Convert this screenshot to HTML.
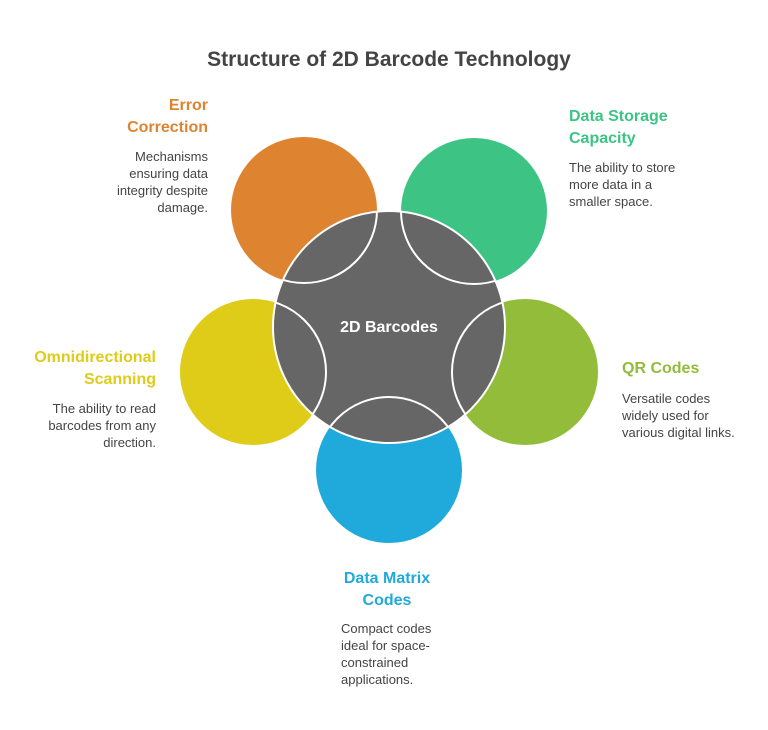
<!DOCTYPE html>
<html><head><meta charset="utf-8"><style>
body{margin:0;background:#fff;width:768px;height:725px;overflow:hidden}
svg text{font-family:"Liberation Sans",sans-serif}
</style></head><body>
<svg width="768" height="725" viewBox="0 0 768 725">
<defs><clipPath id="c"><circle cx="389" cy="327" r="116"/></clipPath></defs>
<text x="389" y="66" text-anchor="middle" font-size="21" font-weight="bold" fill="#444">Structure of 2D Barcode Technology</text>
<circle cx="304" cy="210" r="73" fill="#DE8431"/>
<circle cx="474" cy="211" r="73" fill="#3DC484"/>
<circle cx="253" cy="372" r="73" fill="#DFCC18"/>
<circle cx="525" cy="372" r="73" fill="#92BC3A"/>
<circle cx="389" cy="470" r="73" fill="#20AADB"/>
<circle cx="389" cy="327" r="116" fill="#666" stroke="#fff" stroke-width="2"/>
<g clip-path="url(#c)" fill="none" stroke="#fff" stroke-width="2">
<circle cx="304" cy="210" r="73"/><circle cx="474" cy="211" r="73"/>
<circle cx="253" cy="372" r="73"/><circle cx="525" cy="372" r="73"/>
<circle cx="389" cy="470" r="73"/></g>
<text x="389" y="332" text-anchor="middle" font-size="16" font-weight="bold" fill="#fff">2D Barcodes</text>
<g font-size="16" font-weight="bold">
<text x="208" y="110" text-anchor="end" fill="#DE8431">Error</text>
<text x="208" y="132" text-anchor="end" fill="#DE8431">Correction</text>
<text x="569" y="121" fill="#3DC484">Data Storage</text>
<text x="569" y="143" fill="#3DC484">Capacity</text>
<text x="156" y="362" text-anchor="end" fill="#DFCC18">Omnidirectional</text>
<text x="156" y="384" text-anchor="end" fill="#DFCC18">Scanning</text>
<text x="622" y="373" fill="#92BC3A">QR Codes</text>
<text x="387" y="583" text-anchor="middle" fill="#20AADB">Data Matrix</text>
<text x="387" y="605" text-anchor="middle" fill="#20AADB">Codes</text>
</g>
<g font-size="13" fill="#444">
<text x="208" y="161" text-anchor="end">Mechanisms</text>
<text x="208" y="178" text-anchor="end">ensuring data</text>
<text x="208" y="195" text-anchor="end">integrity despite</text>
<text x="208" y="212" text-anchor="end">damage.</text>
<text x="569" y="172">The ability to store</text>
<text x="569" y="189">more data in a</text>
<text x="569" y="206">smaller space.</text>
<text x="156" y="413" text-anchor="end">The ability to read</text>
<text x="156" y="430" text-anchor="end">barcodes from any</text>
<text x="156" y="447" text-anchor="end">direction.</text>
<text x="622" y="403">Versatile codes</text>
<text x="622" y="420">widely used for</text>
<text x="622" y="437">various digital links.</text>
<text x="341" y="633">Compact codes</text>
<text x="341" y="650">ideal for space-</text>
<text x="341" y="667">constrained</text>
<text x="341" y="684">applications.</text>
</g>
</svg>
</body></html>
